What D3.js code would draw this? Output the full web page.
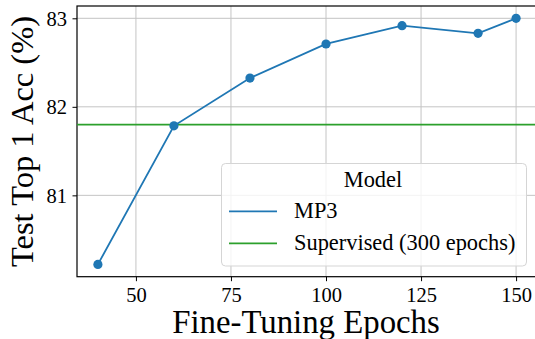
<!DOCTYPE html>
<html>
<head>
<meta charset="utf-8">
<title>Fine-Tuning Epochs</title>
<script src="https://d3js.org/d3.v7.min.js"></script>
<style>
  body { margin: 0; background: #fff; }
  svg text { font-family: "Liberation Serif", "DejaVu Serif", serif; fill: #000; }
</style>
</head>
<body>
<svg id="chart" width="535" height="339"></svg>
<script>
  // data
  let epochs = [40, 60, 80, 100, 120, 140, 150];
  let mp3Acc = [80.22, 81.785, 82.325, 82.71, 82.917, 82.83, 83.0];
  let supervisedAcc = 81.80;
  let xTicks = [50, 75, 100, 125, 150];
  let yTicks = [81, 82, 83];
  let legendNames = ["MP3", "Supervised (300 epochs)"];

  let svg = d3.select("#chart");

  let margin = { top: 6, left: 77 };
  let plotWidth = 460;   // right edge runs past the window, like the picture
  let plotHeight = 270.7;

  let x = d3.scaleLinear().domain([34.5, 155.5]).range([0, plotWidth]);
  let y = d3.scaleLinear().domain([80.081, 83.139]).range([plotHeight, 0]);

  let plot = svg.append("g").attr("transform", translate(margin.left, margin.top));

  // grid
  plot.append("g").selectAll("line").data(xTicks).join("line")
    .attr("x1", d => x(d)).attr("x2", d => x(d))
    .attr("y1", 0).attr("y2", plotHeight)
    .attr("stroke", "#c4c4c4").attr("stroke-width", 1);
  plot.append("g").selectAll("line").data(yTicks).join("line")
    .attr("x1", 0).attr("x2", plotWidth)
    .attr("y1", d => y(d)).attr("y2", d => y(d))
    .attr("stroke", "#c4c4c4").attr("stroke-width", 1);

  // axes
  let xAxis = d3.axisBottom(x).tickValues(xTicks).tickFormat(d3.format("d")).tickSize(4.5).tickPadding(5);
  let yAxis = d3.axisLeft(y).tickValues(yTicks).tickFormat(d3.format("d")).tickSize(4.5).tickPadding(5.5);

  let xGroup = plot.append("g").attr("transform", translate(0, plotHeight)).call(xAxis);
  let yGroup = plot.append("g").call(yAxis);
  [xGroup, yGroup].forEach(g => {
    g.attr("font-family", null).attr("font-size", null);
    g.select(".domain").remove();
    g.selectAll("text").style("font-size", "20.5px");
    g.selectAll(".tick line").attr("stroke", "#000").attr("stroke-width", 1);
  });
  xGroup.selectAll("text").attr("dy", null).attr("y", 0)
    .attr("transform", translate(0, 301.5 - margin.top - plotHeight));
  yGroup.selectAll("text").attr("dy", "0.34em");

  // frame
  plot.append("rect")
    .attr("x", 0).attr("y", 0).attr("width", plotWidth).attr("height", plotHeight)
    .attr("fill", "none").attr("stroke", "#000").attr("stroke-width", 1.2);

  // supervised reference line
  plot.append("line")
    .attr("x1", 0).attr("x2", plotWidth)
    .attr("y1", y(supervisedAcc)).attr("y2", y(supervisedAcc))
    .attr("stroke", "#2ca02c").attr("stroke-width", 1.8);

  // MP3 line
  let pts = epochs.map((e, i) => [x(e), y(mp3Acc[i])]);
  plot.append("path")
    .attr("d", d3.line()(pts))
    .attr("fill", "none").attr("stroke", "#1f77b4").attr("stroke-width", 1.8);
  plot.append("g").selectAll("circle").data(pts).join("circle")
    .attr("cx", d => d[0]).attr("cy", d => d[1]).attr("r", 4.6)
    .attr("fill", "#1f77b4");

  // legend
  let legend = svg.append("g").attr("transform", translate(221, 163));
  legend.append("rect")
    .attr("x", 0.5).attr("y", 0.5).attr("width", 305).attr("height", 102.5)
    .attr("rx", 4).attr("fill", "#fff").attr("fill-opacity", 0.8)
    .attr("stroke", "#d5d5d5").attr("stroke-width", 1);
  legend.append("text")
    .attr("x", 152).attr("y", 23.7).attr("text-anchor", "middle")
    .style("font-size", "22.4px").text("Model");
  let colors = ["#1f77b4", "#2ca02c"];
  legendNames.forEach((name, i) => {
    let ly = 48.3 + i * 32;
    legend.append("line")
      .attr("x1", 8).attr("x2", 56).attr("y1", ly).attr("y2", ly)
      .attr("stroke", colors[i]).attr("stroke-width", 1.8);
    legend.append("text")
      .attr("x", 73).attr("y", ly + 7).style("font-size", "22.4px").text(name);
  });

  // axis titles
  svg.append("text")
    .attr("x", 306).attr("y", 332.5)
    .attr("text-anchor", "middle").style("font-size", "32.8px")
    .text("Fine-Tuning Epochs");
  svg.append("text")
    .attr("transform", translate(33, 141.5) + " rotate(-90)")
    .attr("text-anchor", "middle").style("font-size", "32.5px")
    .text("Test Top 1 Acc (%)");

  function translate(a, b) {
    return "translate(" + a + "," + b + ")";
  }
</script>
</body>
</html>
